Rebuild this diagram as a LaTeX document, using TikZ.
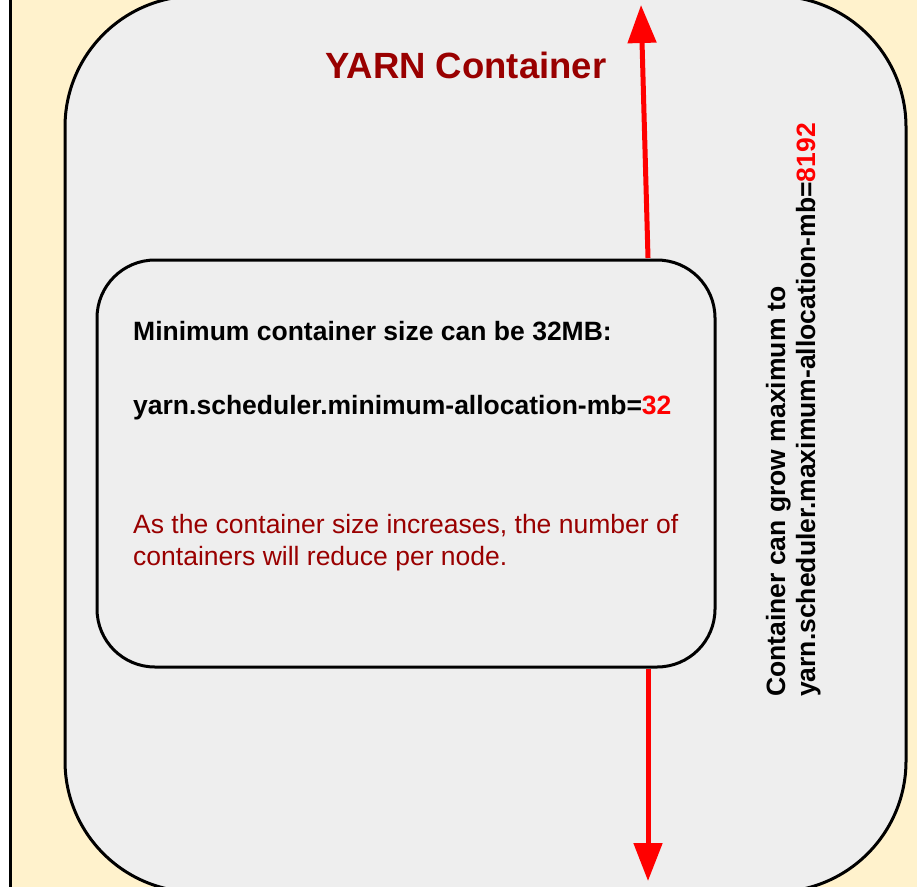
\documentclass[tikz,border=0pt]{standalone}
\usepackage{fontspec}
\setmainfont{Liberation Sans}
\usetikzlibrary{arrows.meta}
\definecolor{beige}{HTML}{FFF2CC}
\definecolor{boxgray}{HTML}{EEEEEE}
\definecolor{darkred}{HTML}{990000}
\definecolor{brightred}{HTML}{FF0000}
\tikzset{
  outerbox/.style={draw=black, line width=3pt, fill=boxgray, rounded corners=131pt},
  innerbox/.style={draw=black, line width=3pt, fill=boxgray, rounded corners=58pt,
    minimum width=618pt, minimum height=407pt, inner sep=0pt, rectangle},
  txt/.style={anchor=base west, inner sep=0pt, font=\fontsize{26.5}{31}\selectfont},
  boldtxt/.style={txt, font=\fontsize{26.5}{31}\selectfont\bfseries},
  title/.style={anchor=base, inner sep=0pt, text=darkred, font=\fontsize{36.5}{43}\selectfont\bfseries},
  redarrow/.style={draw=brightred, line width=5pt, -{Triangle[length=38pt,width=28pt]}}
}
\begin{document}
\begin{tikzpicture}[x=1pt,y=1pt]
\useasboundingbox (0,0) rectangle (917,-886);
\clip (0,0) rectangle (917,-886);
\fill[white] (0,0) rectangle (917,-886);
% beige frame
\draw[fill=beige, line width=3pt] (10,30) rectangle (960,-920);
% outer gray container
\draw[outerbox] (65,4) rectangle (906,-892);
% title
\node[title] (title) at (466,-78) {YARN Container};
% inner box
\node[innerbox] (inner) at (406,-463.5) {};
\node[boldtxt] (l1) at (133,-340) {Minimum container size can be 32MB:};
\node[boldtxt] (l2) at (133,-414) {yarn.scheduler.minimum-allocation-mb=\textcolor{brightred}{32}};
\node[txt, text=darkred] (l3) at (133,-533) {As the container size increases, the number of};
\node[txt, text=darkred] (l4) at (133,-565) {containers will reduce per node.};
% rotated text
\node[boldtxt, rotate=90] (r1) at (785,-697) {Container can grow maximum to};
\node[boldtxt, rotate=90] (r2) at (815,-697) {yarn.scheduler.maximum-allocation-mb=\textcolor{brightred}{8192}};
% arrows
\coordinate (topstart) at (648,-258);
\coordinate (topend) at (641,-5);
\coordinate (botstart) at (648,-669);
\coordinate (botend) at (648,-881);
\draw[redarrow] (topstart) -- (topend);
\draw[redarrow] (botstart) -- (botend);
\end{tikzpicture}
\end{document}
